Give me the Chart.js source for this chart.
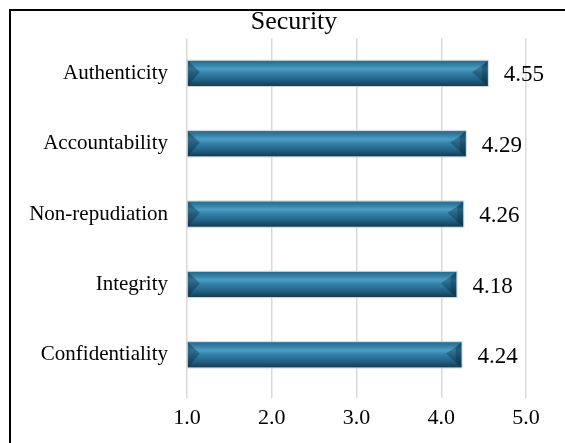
<!DOCTYPE html>
<html>
<head>
<meta charset="utf-8">
<script src="https://cdn.jsdelivr.net/npm/chart.js@4"></script>
<style>
  html, body { margin: 0; padding: 0; overflow: hidden; background: #fff; }
  #frame {
    position: absolute; left: 9px; top: 9px; width: 620px; height: 480px;
    border-left: 2px solid #000; border-top: 2px solid #000;
  }
  #wrap { position: absolute; left: 0; top: 0; width: 588px; height: 443px; }
</style>
</head>
<body>
<div id="frame"></div>
<div id="wrap"><canvas id="myChart"></canvas></div>
<script>
const categories = ["Authenticity", "Accountability", "Non-repudiation", "Integrity", "Confidentiality"];
const scores = [4.55, 4.29, 4.26, 4.18, 4.24];
const tickValues = [1.0, 2.0, 3.0, 4.0, 5.0];

const serif = "'Liberation Serif', 'Times New Roman', serif";

// paints the glossy tube look on top of every bar, plus the value text
const tubeBars = {
  id: "tubeBars",
  afterDatasetsDraw(chart) {
    const ctx = chart.ctx;
    const meta = chart.getDatasetMeta(0);
    meta.data.forEach((bar, i) => {
      const p = bar.getProps(["x", "y", "base", "height"], true);
      const left = Math.max(p.base, chart.chartArea.left), right = p.x;
      const top = p.y - p.height / 2, bottom = p.y + p.height / 2;
      const h = bottom - top;

      ctx.save();
      let g = ctx.createLinearGradient(0, top, 0, bottom);
      g.addColorStop(0, "#2a6a8a");
      g.addColorStop(0.12, "#2f7aa0");
      g.addColorStop(0.32, "#4c9dc4");
      g.addColorStop(0.5, "#3280a8");
      g.addColorStop(0.78, "#215e80");
      g.addColorStop(1, "#143a52");
      ctx.fillStyle = g;
      ctx.fillRect(left, top, right - left, h);

      // bevelled ends
      const cap = Math.min(12, (right - left) / 4);
      ctx.fillStyle = "rgba(10,40,60,0.55)";
      ctx.beginPath();
      ctx.moveTo(right, top);
      ctx.lineTo(right, bottom);
      ctx.lineTo(right - cap * 0.5, bottom - h * 0.2);
      ctx.lineTo(right - cap * 0.5, top + h * 0.2);
      ctx.closePath();
      ctx.fill();
      ctx.fillStyle = "rgba(10,40,60,0.35)";
      ctx.beginPath();
      ctx.moveTo(right - cap * 0.5, top + h * 0.2);
      ctx.lineTo(right - cap * 1.3, top + h * 0.45);
      ctx.lineTo(right - cap * 0.5, bottom - h * 0.2);
      ctx.closePath();
      ctx.fill();
      ctx.fillStyle = "rgba(10,40,60,0.4)";
      ctx.beginPath();
      ctx.moveTo(left, top);
      ctx.lineTo(left + cap, top + h * 0.45);
      ctx.lineTo(left, bottom);
      ctx.closePath();
      ctx.fill();

      ctx.strokeStyle = "rgba(200,210,215,0.9)";
      ctx.lineWidth = 1;
      ctx.strokeRect(left - 0.5, top - 0.5, right - left + 1, h + 1);

      ctx.fillStyle = "#000";
      ctx.font = "23px " + serif;
      ctx.textAlign = "left";
      ctx.textBaseline = "middle";
      ctx.fillText(scores[i].toFixed(2), right + 16, p.y + 2);
      ctx.restore();
    });
  }
};

new Chart("myChart", {
  type: "bar",
  data: {
    labels: categories,
    datasets: [{
      data: scores,
      base: 1,
      backgroundColor: "#2a7399",
      barPercentage: 0.36,
      categoryPercentage: 1
    }]
  },
  options: {
    indexAxis: "y",
    responsive: true,
    maintainAspectRatio: false,
    animation: false,
    layout: { padding: { top: 1, right: 0, bottom: 0, left: 0 } },
    plugins: {
      legend: { display: false },
      tooltip: { enabled: false },
      title: {
        display: true,
        text: "Security",
        color: "#000",
        font: { family: serif, size: 26, weight: "normal", lineHeight: 1.2 },
        padding: { top: 6, bottom: 0 }
      }
    },
    scales: {
      x: {
        min: 1,
        max: 5,
        afterBuildTicks(scale) {
          scale.ticks = tickValues.map(v => ({ value: v }));
        },
        afterFit(scale) { scale.height = 53; },
        border: { display: false },
        grid: { color: "#d9d9d9", lineWidth: 1.5, tickLength: 8 },
        ticks: {
          color: "#000",
          padding: 7,
          font: { family: serif, size: 22, lineHeight: 1.2 },
          callback: v => Number(v).toFixed(1)
        }
      },
      y: {
        border: { display: false },
        grid: { display: false, drawTicks: false },
        afterFit(scale) { scale.width = 187; },
        ticks: {
          color: "#000",
          padding: 19,
          font: { family: serif, size: 21 }
        }
      },
      // empty right-hand axis keeping room for the value labels
      yRight: {
        type: "category",
        position: "right",
        border: { display: false },
        grid: { display: false, drawTicks: false },
        ticks: { display: false },
        afterFit(scale) { scale.width = 62; }
      }
    }
  },
  plugins: [tubeBars]
});
</script>
</body>
</html>
